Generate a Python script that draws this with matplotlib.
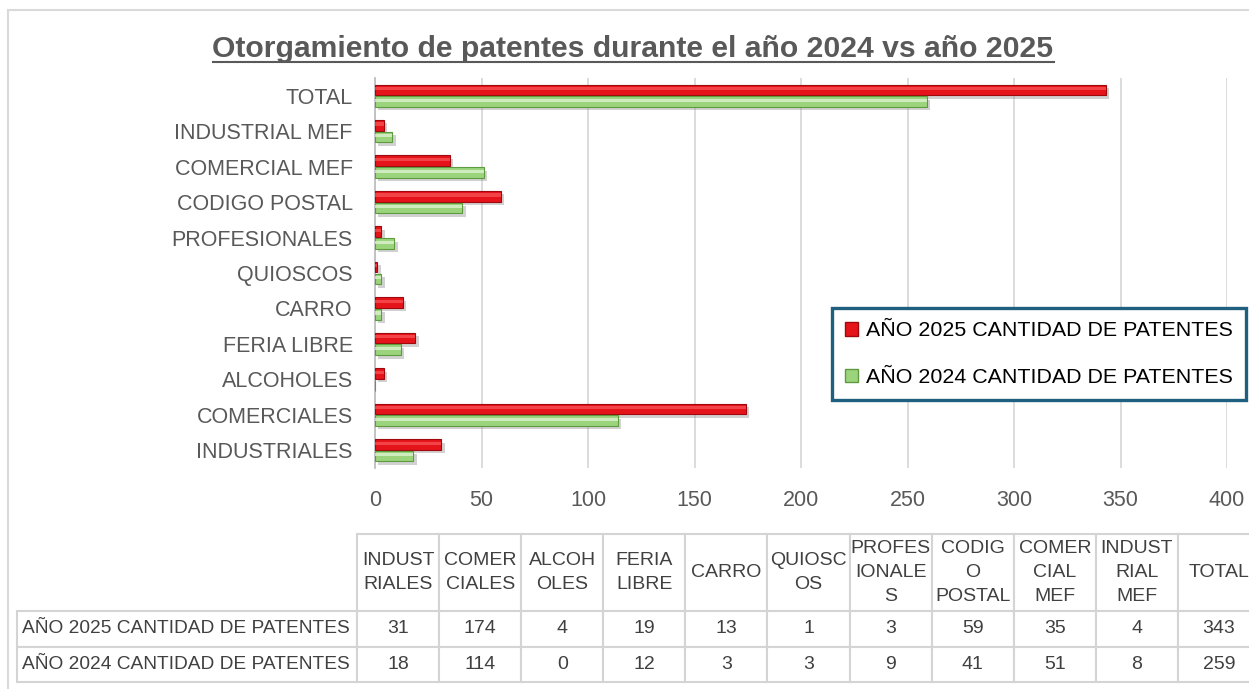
import matplotlib
matplotlib.use("Agg")
import matplotlib.pyplot as plt
import matplotlib.patheffects as pe
from matplotlib.patches import Patch, Rectangle
from matplotlib.lines import Line2D

# datos
categorias = ["INDUSTRIALES", "COMERCIALES", "ALCOHOLES", "FERIA LIBRE", "CARRO",
              "QUIOSCOS", "PROFESIONALES", "CODIGO POSTAL", "COMERCIAL MEF",
              "INDUSTRIAL MEF", "TOTAL"]
encabezados_tabla = ["INDUST\nRIALES", "COMER\nCIALES", "ALCOH\nOLES", "FERIA\nLIBRE",
                     "CARRO", "QUIOSC\nOS", "PROFES\nIONALE\nS", "CODIG\nO\nPOSTAL",
                     "COMER\nCIAL\nMEF", "INDUST\nRIAL\nMEF", "TOTAL"]
valores_2025 = [31, 174, 4, 19, 13, 1, 3, 59, 35, 4, 343]
valores_2024 = [18, 114, 0, 12, 3, 3, 9, 41, 51, 8, 259]
serie_2025 = "AÑO 2025 CANTIDAD DE PATENTES"
serie_2024 = "AÑO 2024 CANTIDAD DE PATENTES"
ticks_x = [0, 50, 100, 150, 200, 250, 300, 350, 400]

W, H = 1249, 689
FONT = ["Liberation Sans", "DejaVu Sans"]
NARROW = ["Liberation Sans Narrow", "Liberation Sans", "DejaVu Sans"]
GRIS = "#595959"


def px_box(x0, y0, x1, y1):
    """caja en pixeles (origen arriba-izq) -> fracciones de figura"""
    return [x0 / W, 1 - y1 / H, (x1 - x0) / W, (y1 - y0) / H]


fig = plt.figure(figsize=(W / 100, H / 100), dpi=100)

# borde del area del grafico
fig.add_artist(Rectangle((8 / W, -0.1), 1.2, 1.1 - 10 / H, transform=fig.transFigure,
                         fill=False, edgecolor="#D9D9D9", linewidth=1.5))

ax = fig.add_axes(px_box(375, 78, 1227, 468))
pos = list(range(len(categorias)))
h = 0.3
off = 0.165

sombra = [pe.SimplePatchShadow(offset=(2.5, -2.5), shadow_rgbFace="#8C8C8C", alpha=0.4),
          pe.Normal()]

ax.barh([p + off for p in pos], valores_2025, height=h, color="#E5141B",
        edgecolor="#A0080D", linewidth=0.8, zorder=3, path_effects=sombra)
ax.barh([p - off for p in pos], valores_2024, height=h, color="#9CD47E",
        edgecolor="#5E9A3E", linewidth=0.8, zorder=3, path_effects=sombra)
# brillo superior (efecto 3D)
ax.barh([p + off + h * 0.12 for p in pos], valores_2025, height=h * 0.3,
        color="#FF6B6B", alpha=0.55, linewidth=0, zorder=4)
ax.barh([p - off + h * 0.12 for p in pos], valores_2024, height=h * 0.3,
        color="#E6F7DA", alpha=0.7, linewidth=0, zorder=4)

ax.set_xlim(0, 400)
ax.set_ylim(-0.5, len(categorias) - 0.5)
ax.set_xticks(ticks_x)
ax.set_xticklabels([str(t) for t in ticks_x])
ax.set_yticks(pos)
ax.set_yticklabels(categorias)
ax.grid(axis="x", color="#D9D9D9", linewidth=1.3, zorder=0)
ax.set_axisbelow(True)
for s in ["top", "right", "bottom"]:
    ax.spines[s].set_visible(False)
ax.spines["left"].set_color("#BFBFBF")
ax.spines["left"].set_linewidth(1.3)
ax.tick_params(length=0, pad=16, labelcolor=GRIS, labelsize=15.5)
for lbl in ax.get_xticklabels() + ax.get_yticklabels():
    lbl.set_family(FONT)

handles = [Patch(facecolor="#E5141B", edgecolor="#A0080D", label=serie_2025),
           Patch(facecolor="#9CD47E", edgecolor="#5E9A3E", label=serie_2024)]
leg = ax.legend(handles=handles, loc="upper left",
                bbox_to_anchor=((832 - 375) / 852, (468 - 308) / 390),
                borderaxespad=0, fancybox=False, framealpha=1,
                prop={"family": FONT, "size": 15.4},
                handlelength=0.6, handleheight=0.6, handletextpad=0.35,
                labelspacing=1.3, borderpad=0.62)
leg.get_frame().set_edgecolor("#1F5F7F")
leg.get_frame().set_linewidth(2.4)
leg.set_zorder(10)

# tabla de datos: la primera columna lleva el nombre de la serie
tax = fig.add_axes(px_box(17, 534, 1260, 682))
tax.axis("off")
filas = [[serie_2025] + [str(v) for v in valores_2025],
         [serie_2024] + [str(v) for v in valores_2024]]
ancho_lbl = 340
ancho_col = (1243 - ancho_lbl) / len(categorias)
tabla = tax.table(cellText=filas, colLabels=[""] + encabezados_tabla,
                  colWidths=[ancho_lbl] + [ancho_col] * len(categorias),
                  cellLoc="center", bbox=[0, 0, 1, 1])
tabla.auto_set_font_size(False)
for (r, c), cell in tabla.get_celld().items():
    cell.set_edgecolor("#D4D4D4")
    cell.set_linewidth(1.5)
    cell.set_height(77 if r == 0 else 35.5)
    t = cell.get_text()
    t.set_fontsize(14)
    t.set_color("#404040")
    t.set_family(NARROW)
    t.set_linespacing(1.55)
    if c == 0:
        if r == 0:
            cell.set_edgecolor("none")
        else:
            t.set_fontsize(13.8)
            t.set_horizontalalignment("left")
            cell.PAD = 5 / ancho_lbl

# titulo subrayado
titulo = fig.text(633 / W, 1 - 49 / H,
                  "Otorgamiento de patentes durante el año 2024 vs año 2025",
                  ha="center", va="center", fontsize=21.7, fontweight="bold",
                  color=GRIS, family=NARROW)
fig.canvas.draw()
bb = titulo.get_window_extent()
yl = bb.y0 + 1
fig.add_artist(Line2D([bb.x0 / W, bb.x1 / W], [yl / H, yl / H],
                      transform=fig.transFigure, color=GRIS, linewidth=1.5))

fig.savefig("out.png", dpi=100)
